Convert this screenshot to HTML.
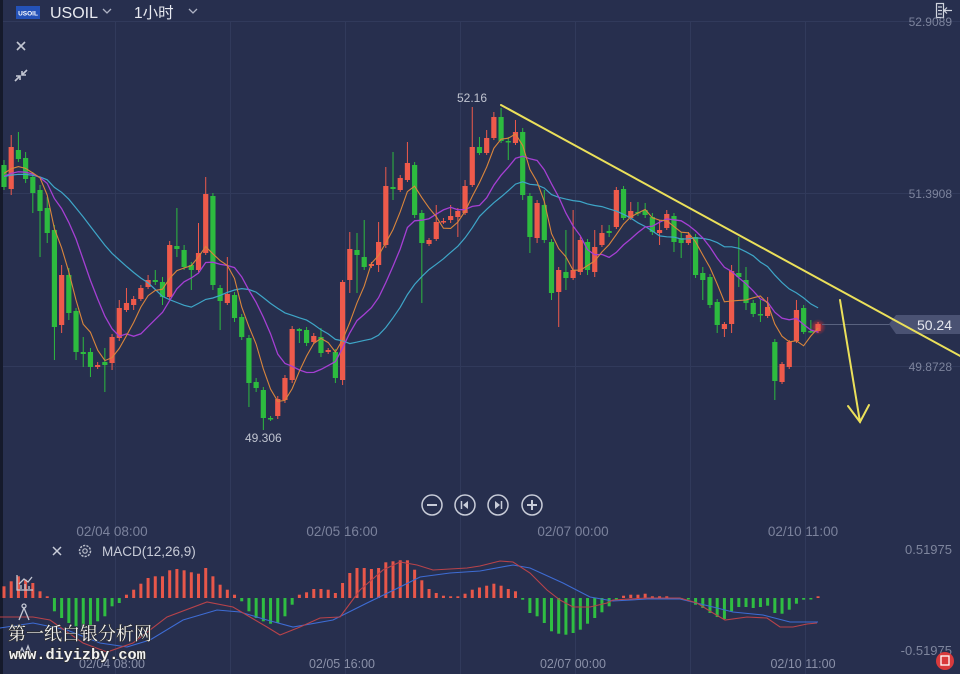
<!DOCTYPE html>
<html><head><meta charset="utf-8">
<style>
html,body{margin:0;padding:0;background:#272f4e;}
body{width:960px;height:674px;overflow:hidden;position:relative;font-family:"Liberation Sans","Noto Sans CJK SC",sans-serif;}
svg{position:absolute;left:0;top:0;}
</style></head><body>
<svg id="c" width="960" height="674" viewBox="0 0 960 674" xmlns="http://www.w3.org/2000/svg">
<defs>
<radialGradient id="glow"><stop offset="0" stop-color="#ff3030" stop-opacity="0.8"/><stop offset="1" stop-color="#ff3030" stop-opacity="0"/></radialGradient>
</defs>
<rect width="960" height="674" fill="#272f4e"/>
<rect x="0" y="0" width="3" height="674" fill="#151a2b"/>
<g stroke="#313a5b" stroke-width="1" fill="none">
<line x1="3" y1="21.5" x2="960" y2="21.5"/>
<line x1="3" y1="193.5" x2="960" y2="193.5"/>
<line x1="3" y1="366.5" x2="960" y2="366.5"/>
<line x1="115.5" y1="22" x2="115.5" y2="674"/>
<line x1="230.5" y1="22" x2="230.5" y2="674"/>
<line x1="345.5" y1="22" x2="345.5" y2="674"/>
<line x1="460.5" y1="22" x2="460.5" y2="674"/>
<line x1="575.5" y1="22" x2="575.5" y2="674"/>
<line x1="690.5" y1="22" x2="690.5" y2="674"/>
<line x1="805.5" y1="22" x2="805.5" y2="674"/>
</g>
<g id="main"></g>
<g id="macd"></g>

<!-- price line + label -->
<line x1="822" y1="324.5" x2="892" y2="324.5" stroke="#59627f" stroke-width="1"/>
<polygon points="889,324 896,315 960,315 960,334 896,334" fill="#4a5273"/>
<text x="952" y="330" text-anchor="end" font-size="14" fill="#e4e6ee">50.24</text>

<!-- yellow drawings -->
<g stroke="#ebe05a" stroke-width="2" fill="none" stroke-linecap="round">
<line x1="501" y1="105" x2="962" y2="357"/>
<line x1="840" y1="300" x2="860" y2="422"/>
<polyline points="848,406 860,422 869,405"/>
</g>

<!-- top bar -->
<rect x="16" y="6" width="24" height="13" fill="#2452b8"/>
<text x="28" y="15.5" text-anchor="middle" font-size="6.5" font-weight="bold" fill="#ffffff">USOIL</text>
<text x="50" y="18" font-size="16" fill="#e8eaf0">USOIL</text>
<polyline points="103,9 107,13 111,9" stroke="#aeb3c4" stroke-width="1.3" fill="none"/>
<text x="134" y="18" font-size="15.5" fill="#e8eaf0">1小时</text>
<polyline points="189,9 193,13 197,9" stroke="#aeb3c4" stroke-width="1.3" fill="none"/>
<g stroke="#d0d4de" stroke-width="1.2" fill="none">
<rect x="936.5" y="3.5" width="7" height="14"/>
<line x1="944" y1="10.5" x2="952" y2="10.5"/>
<polyline points="947,7.5 944,10.5 947,13.5"/>
<line x1="938" y1="7" x2="942" y2="7"/><line x1="938" y1="10.5" x2="942" y2="10.5"/><line x1="938" y1="14" x2="942" y2="14"/>
</g>
<!-- left icons -->
<g stroke="#c3c7d3" stroke-width="1.6" fill="none">
<line x1="17" y1="42" x2="25" y2="50"/><line x1="25" y1="42" x2="17" y2="50"/>
<line x1="15" y1="81" x2="20" y2="76"/><polyline points="16,76 20,76 20,80"/>
<line x1="27" y1="70" x2="22" y2="75"/><polyline points="22,71 22,75 26,75"/>
</g>

<!-- y labels -->
<g font-size="12" fill="#7c839c" text-anchor="end">
<text x="952" y="26">52.9089</text>
<text x="952" y="198">51.3908</text>
<text x="952" y="371">49.8728</text>
</g>
<text x="457" y="102" font-size="12" fill="#c0c4d0">52.16</text>
<text x="245" y="442" font-size="12" fill="#c0c4d0">49.306</text>

<!-- nav buttons -->
<g stroke="#c8ccd8" stroke-width="1.5" fill="none">
<circle cx="432" cy="505" r="10"/><circle cx="465" cy="505" r="10"/><circle cx="498" cy="505" r="10"/><circle cx="532" cy="505" r="10"/>
<line x1="427" y1="505" x2="437" y2="505" stroke-width="2"/>
<line x1="527" y1="505" x2="537" y2="505" stroke-width="2"/><line x1="532" y1="500" x2="532" y2="510" stroke-width="2"/>
<line x1="461.5" y1="501" x2="461.5" y2="509"/>
<line x1="501.5" y1="501" x2="501.5" y2="509"/>
</g>
<polygon points="463,505 468,501 468,509" fill="#c8ccd8"/>
<polygon points="500,505 495,501 495,509" fill="#c8ccd8"/>

<!-- time labels -->
<g font-size="13.5" fill="#7b829c" text-anchor="middle">
<text x="112" y="536">02/04 08:00</text>
<text x="342" y="536">02/05 16:00</text>
<text x="573" y="536">02/07 00:00</text>
<text x="803" y="536">02/10 11:00</text>
</g>

<!-- MACD header -->
<g stroke="#c8ccd8" stroke-width="1.5">
<line x1="53" y1="547" x2="61" y2="555"/><line x1="61" y1="547" x2="53" y2="555"/>
</g>
<circle cx="85" cy="551" r="5.5" stroke="#b8bcc9" stroke-width="1.5" fill="none" stroke-dasharray="2.2 1.2"/>
<circle cx="85" cy="551" r="2.2" stroke="#b8bcc9" stroke-width="1.2" fill="none"/>
<text x="102" y="556" font-size="13.5" fill="#c8ccd8">MACD(12,26,9)</text>
<g font-size="13" fill="#7e859d" text-anchor="end">
<text x="952" y="554">0.51975</text>
<text x="952" y="655">-0.51975</text>
</g>

<!-- MACD left icons -->
<g stroke="#c3c7d3" stroke-width="1.3" fill="none">
<polyline points="17,575 17,590 33,590"/>
<polyline points="19,584 24,579 28,582 32,577"/>
<line x1="21" y1="589" x2="21" y2="585"/><line x1="25" y1="589" x2="25" y2="584"/><line x1="29" y1="589" x2="29" y2="586"/>
<circle cx="24" cy="606" r="2"/>
<polyline points="19,620 24,608 29,620"/>
<polyline points="18,657 22,648 25,654 28,646 32,657"/>
</g>

<!-- bottom time labels -->
<g font-size="12.5" fill="#8a90a8" text-anchor="middle">
<text x="112" y="668">02/04 08:00</text>
<text x="342" y="668">02/05 16:00</text>
<text x="573" y="668">02/07 00:00</text>
<text x="803" y="668">02/10 11:00</text>
</g>

<!-- watermark -->
<text x="8" y="640" font-size="18" fill="#f2f2f2" stroke="#2a2a2a" stroke-width="1.2" paint-order="stroke" font-family="'Noto Serif CJK SC','Noto Sans CJK SC',serif">第一纸白银分析网</text>
<text x="9" y="659" font-size="15.2" font-weight="bold" fill="#f2f2f2" stroke="#2a2a2a" stroke-width="1.2" paint-order="stroke" font-family="'Liberation Mono',monospace">www.diyizby.com</text>

<!-- bottom-right icon -->
<circle cx="945" cy="661" r="9" fill="#d83a3c"/>
<rect x="941" y="656" width="8" height="9" fill="none" stroke="#ffffff" stroke-width="1.3"/>
</svg>
<script>
(function(){
var NS='http://www.w3.org/2000/svg';
function el(t,a,p){var e=document.createElementNS(NS,t);for(var k in a)e.setAttribute(k,a[k]);p.appendChild(e);return e;}
var main=document.getElementById('main'),macd=document.getElementById('macd');
var C=[
['g',165,187,160,190],['r',147,189,135,195],['g',150,159,132,162],['g',158,179,152,183],['g',177,193,172,213],
['g',190,211,185,257],['g',208,233,197,243],['g',230,327,225,360],['r',275,325,265,333],['g',275,313,268,320],
['g',311,352,308,360],['g',352,354,337,367],['g',352,367,348,377],['r',365,367,362,369],['g',362,365,348,392],
['r',337,363,334,370],['r',308,338,300,341],['r',303,310,288,312],['r',299,305,296,310],['r',288,299,285,301],
['r',280,287,275,289],['g',280,282,270,285],['g',282,297,277,305],['r',245,297,241,300],['g',246,249,208,257],
['g',250,267,245,270],['g',265,270,262,290],['r',253,270,223,272],['r',194,253,177,255],['g',196,285,193,290],
['g',288,301,285,330],['r',294,303,257,305],['g',295,318,292,322],['g',317,337,314,340],['g',338,383,335,407],
['g',382,388,378,392],['g',390,418,387,430],['g',418,419,416,421],['r',399,416,396,419],['r',378,400,375,403],
['r',329,380,326,383],['g',329,331,328,343],['g',330,343,327,346],['r',336,342,333,344],['g',337,353,328,357],
['r',350,352,348,354],['g',352,378,349,383],['r',282,380,280,385],['r',249,280,232,293],['g',250,255,233,293],
['g',257,267,220,270],['r',264,266,262,268],['r',242,265,222,272],['r',186,245,167,248],['g',187,189,152,200],
['r',178,190,175,192],['r',163,180,142,182],['g',165,215,162,218],['g',213,243,210,303],['r',240,244,238,246],
['r',222,239,205,241],['r',221,222,218,224],['r',216,220,205,223],['r',211,217,208,237],['r',186,213,180,215],
['r',147,185,107,187],['g',147,153,137,155],['r',138,153,130,155],['r',117,138,112,140],['g',117,141,108,143],
['g',141,142,137,160],['r',132,143,120,145],['g',132,195,128,200],['g',196,237,193,253],['r',203,238,200,243],
['g',205,240,190,243],['g',242,293,239,300],['r',270,292,267,327],['g',272,278,230,290],['r',270,278,210,280],
['r',240,272,237,275],['g',242,270,239,275],['r',247,272,230,277],['r',233,245,225,247],['g',231,233,225,237],
['r',190,227,187,229],['g',189,218,186,220],['r',211,218,202,220],['g',212,213,202,216],['g',210,215,203,218],
['g',217,232,213,235],['r',230,233,220,245],['r',214,228,210,230],['g',216,242,213,252],['g',238,243,232,258],
['r',235,243,232,245],['g',237,275,234,278],['g',273,280,267,300],['g',277,305,274,308],['g',302,325,299,333],
['r',324,329,322,337],['r',271,324,265,333],['g',273,277,237,287],['g',280,303,267,310],['g',303,314,300,317],
['g',314,315,300,322],['r',307,316,297,318],['g',342,381,339,400],['r',364,382,362,384],['r',342,367,340,369],
['r',310,341,300,343],['g',308,332,305,334],['g',331,332,320,333],['r',324,331,322,333]
];
var RED='#ee5a4b',GRN='#2dbb3f';
function X(i){return 4+i*7.204;}
el('circle',{cx:X(113),cy:327,r:8,fill:'url(#glow)'},main);
var closes=[];
for(var i=0;i<C.length;i++){
 var c=C[i],x=X(i),col=c[0]=='r'?RED:GRN;
 closes.push(c[0]=='r'?c[1]:c[2]);
 el('line',{x1:x,y1:c[3],x2:x,y2:c[4],stroke:col,'stroke-width':1},main);
 var h=Math.max(c[2]-c[1],1.5);
 el('rect',{x:x-2.6,y:c[1],width:5.2,height:h,fill:col},main);
}
function ma(n,pad){var pts=[];for(var i=0;i<closes.length;i++){var s=0;for(var j=i-n+1;j<=i;j++){s+=(j<0?pad:closes[j]);}pts.push(X(i).toFixed(1)+','+(s/n).toFixed(1));}return pts.join(' ');}
el('polyline',{points:ma(20,176),fill:'none',stroke:'#3ea6c8','stroke-width':1.2},main);
el('polyline',{points:ma(10,175),fill:'none',stroke:'#a53fd3','stroke-width':1.3},main);
el('polyline',{points:ma(5,170),fill:'none',stroke:'#d9853c','stroke-width':1.1},main);
var H=[11.7,16.7,21.7,18.3,15,6.7,1.7,-13.3,-20,-25,-28.3,-30,-28.3,-23.3,-18.3,-8.3,-5,3.3,8.3,14.3,20,21.7,21.7,27.7,29,27.7,25.7,24.3,30,21.7,13.3,8.3,3.3,-3.3,-13.3,-20,-23.3,-25.7,-25,-18.3,-6.7,3.3,5.7,9,9,8.3,5,15,25,30,30,29,30,35.7,36.7,37.7,37.7,28.3,17.7,9,5,2.3,1.7,1.7,4.3,8.3,10.5,
12.3,14.3,12.3,9,6.7,-1.7,-15,-18.3,-25,-33.3,-35.7,-36.7,-35,-31.7,-25.7,-20,-14.3,-8.3,-1.7,2.3,3.3,3.3,4.3,1.7,1.7,1.7,-1,-1,-1.5,-6.7,-10,-15,-19,-21,-13.3,-9,-9,-10,-9,-7.7,-15,-15.7,-11.7,-5.7,-1.7,-1,1.7];
var Z=598;
for(var i=0;i<H.length;i++){var v=H[i],x=X(i),hh=Math.max(Math.abs(v),1.5);
 el('rect',{x:x-1.5,y:v>=0?Z-hh:Z,width:3,height:hh,fill:v>=0?'#e8574a':'#2fbe42'},macd);}
var R="0,617 33,617 50,620 83,643 107,652 133,643 167,617 207,602 233,607 267,627 280,635 300,627 320,618 340,617 360,590 383,570 400,562 417,565 433,570 467,568 480,566 500,561 513,562 530,573 547,590 560,600 573,607 590,607 607,603 613,600 647,598 680,598 697,603 713,613 725,620 747,617 767,618 780,627 793,627 807,624 817,623";
var B="0,628 33,623 67,630 100,643 127,647 150,640 183,620 217,610 240,612 267,620 293,627 333,620 367,603 400,587 420,577 450,573 480,571 513,565 530,568 563,583 590,597 613,601 647,599 680,599 713,607 733,612 763,615 790,622 818,622";
el('polyline',{points:B,fill:'none',stroke:'#3e6cd4','stroke-width':1.1},macd);
el('polyline',{points:R,fill:'none',stroke:'#b8434a','stroke-width':1.1},macd);
})();
</script>
</body></html>
